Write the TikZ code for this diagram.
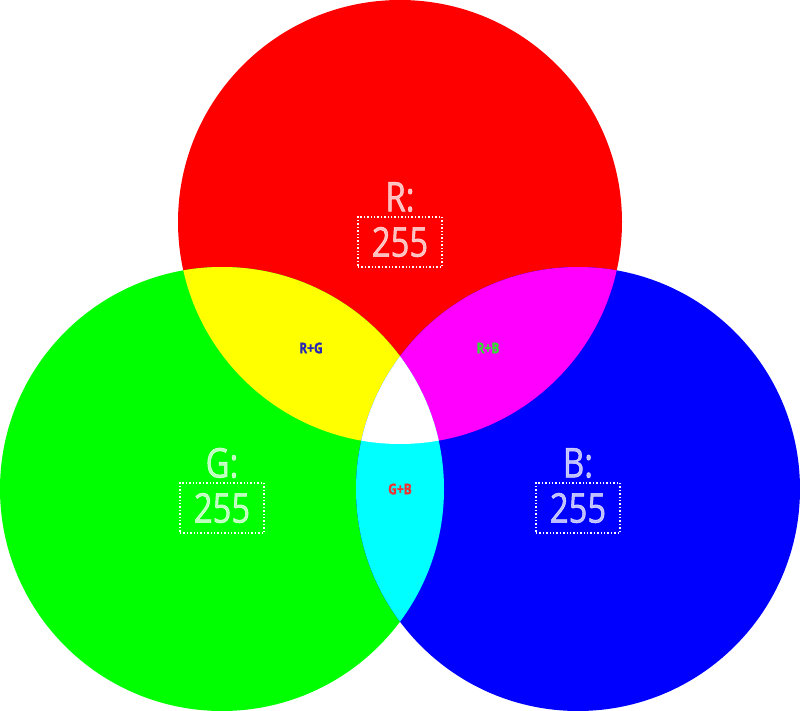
\documentclass[tikz,border=0pt]{standalone}
\usepackage{fontspec}
\setmainfont[FakeStretch=0.8,FakeBold=1.2]{Open Sans}
\definecolor{cR}{RGB}{255,0,0}
\definecolor{cG}{RGB}{0,255,0}
\definecolor{cB}{RGB}{0,0,255}
\definecolor{cY}{RGB}{255,255,0}
\definecolor{cM}{RGB}{255,0,255}
\definecolor{cC}{RGB}{0,255,255}
\definecolor{tRG}{RGB}{40,40,180}
\definecolor{tRB}{RGB}{50,220,50}
\definecolor{tGB}{RGB}{240,50,50}
\begin{document}
\begin{tikzpicture}[x=1pt,y=-1pt,
  bigtxt/.style={text=white,text opacity=0.75,font=\fontsize{41}{43}\selectfont,inner sep=0pt},
  valbox/.style={draw=white,line width=1.4pt,dash pattern=on 1.4pt off 2pt,minimum width=84pt,minimum height=50pt,inner sep=0pt},
  mixtxt/.style={font=\bfseries\fontsize{15}{16}\selectfont,inner sep=0pt}]
\useasboundingbox (0,0) rectangle (800,711);
\fill[white] (0,0) rectangle (800,711);
\def\rc{(400,222) circle[radius=222]}
\def\gc{(222,489) circle[radius=222]}
\def\bc{(578,489) circle[radius=222]}
\fill[cR] \rc;
\fill[cG] \gc;
\fill[cB] \bc;
\begin{scope}\clip \rc; \fill[cY] \gc; \fill[cM] \bc;\end{scope}
\begin{scope}\clip \gc; \fill[cC] \bc;\end{scope}
\begin{scope}\clip \rc; \clip \gc; \fill[white] \bc;\end{scope}
% labels
\node[bigtxt] (rl) at (400,197) {R:};
\node[valbox] (rb) at (400,242) {};
\node[bigtxt] (rv) at (400,242) {255};
\node[bigtxt] (gl) at (222,463) {G:};
\node[valbox] (gb) at (222,508) {};
\node[bigtxt] (gv) at (222,508) {255};
\node[bigtxt] (bl) at (578,463) {B:};
\node[valbox] (bb) at (578,508) {};
\node[bigtxt] (bv) at (578,508) {255};
\node[mixtxt,text=tRG] (rg) at (311,348) {R+G};
\node[mixtxt,text=tRB] (rbm) at (488,348) {R+B};
\node[mixtxt,text=tGB] (gbm) at (400,489) {G+B};
\end{tikzpicture}
\end{document}
